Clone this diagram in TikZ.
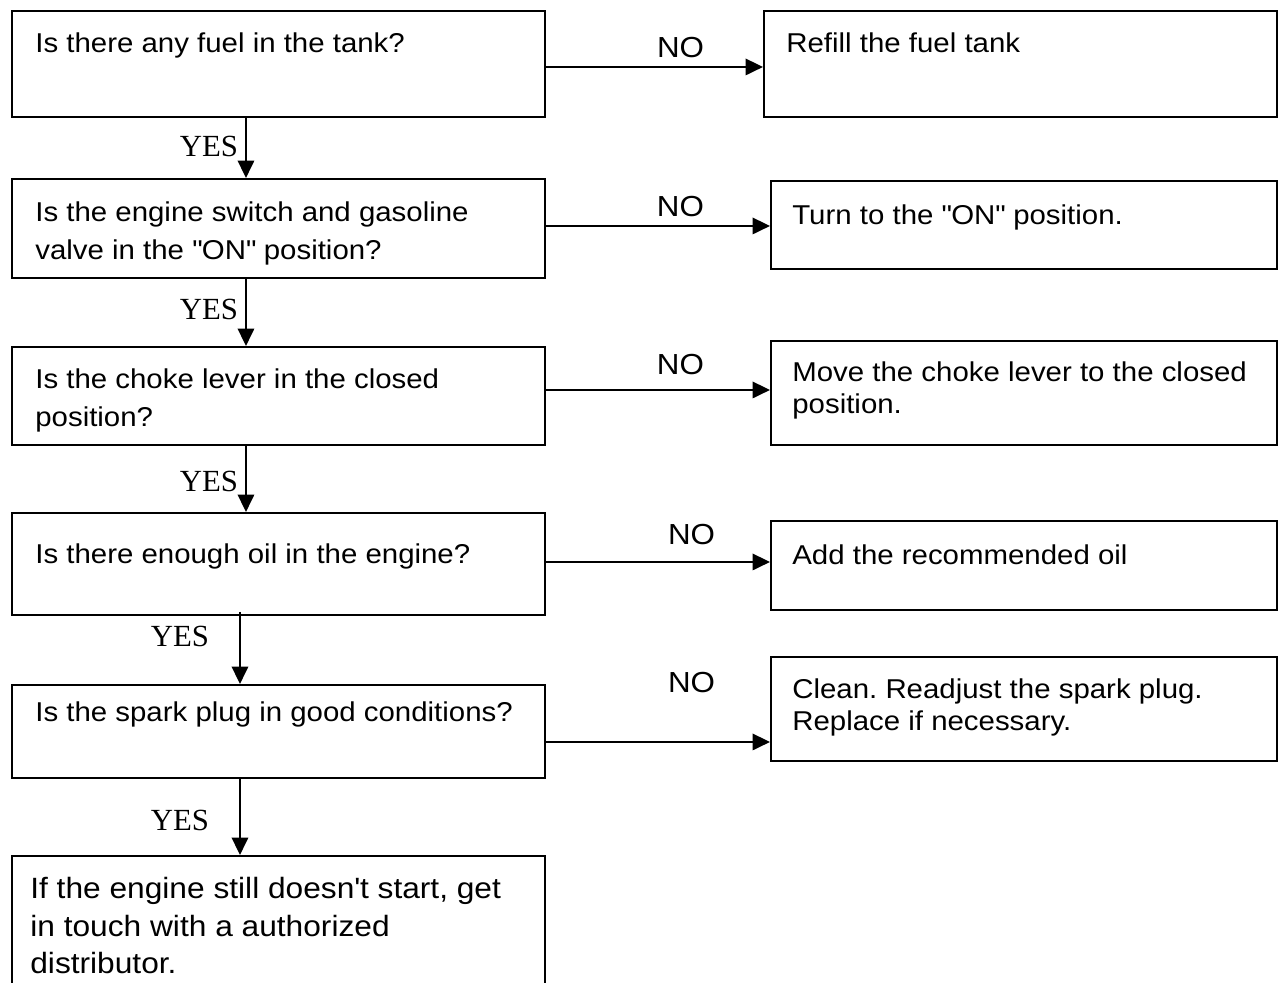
\documentclass[tikz,border=0pt]{standalone}
\usepackage{fontspec}
\setmainfont{Liberation Sans}[FakeStretch=1.08]
\newfontfamily\yesfont{Liberation Serif}
\usetikzlibrary{arrows.meta,positioning,calc}
\frenchspacing

\begin{document}
\begin{tikzpicture}[
  x=0.02cm, y=-0.02cm,
  box/.style 2 args={draw, line width=1.1pt, anchor=north west, inner sep=0pt, minimum width=#1*0.02cm, minimum height=#2*0.02cm},
  qtext/.style={anchor=north west, inner sep=0pt, align=left, font=\fontsize{15.5}{21.6}\selectfont},
  atext/.style={anchor=north west, inner sep=0pt, align=left, font=\fontsize{15.5}{18.2}\selectfont},
  yes/.style={inner sep=0pt, font=\yesfont\fontsize{17.5}{20}\selectfont},
  no/.style={inner sep=0pt, font=\fontsize{16.5}{18}\selectfont},
  arr/.style={-{Triangle[length=0.35cm,width=0.33cm]}, line width=1.1pt},
]
\useasboundingbox (0,0) rectangle (1281,983);

% questions (left column)
\node[box={533}{106}] (q1) at (11,10) {};
\node[box={533}{99}]  (q2) at (11,178) {};
\node[box={533}{98}]  (q3) at (11,346) {};
\node[box={533}{102}] (q4) at (11,512) {};
\node[box={533}{93}]  (q5) at (11,684) {};
\node[box={533}{200}] (q6) at (11,855) {};

% remedies (right column)
\node[box={513}{106}] (a1) at (763,10) {};
\node[box={506}{88}]  (a2) at (770,180) {};
\node[box={506}{104}] (a3) at (770,340) {};
\node[box={506}{89}]  (a4) at (770,520) {};
\node[box={506}{104}] (a5) at (770,656) {};

\node[qtext] (q1t) at ([shift={(24,22)}]q1.north west) {Is there any fuel in the tank?};
\node[qtext] (q2t) at ([shift={(24,23)}]q2.north west) {Is the engine switch and gasoline\\valve in the \textquotedbl ON\textquotedbl\ position?};
\node[qtext] (q3t) at ([shift={(24,22)}]q3.north west) {Is the choke lever in the closed\\position?};
\node[qtext] (q4t) at ([shift={(24,31)}]q4.north west) {Is there enough oil in the engine?};
\node[qtext] (q5t) at ([shift={(24,17)}]q5.north west) {Is the spark plug in good conditions?};
\node[qtext, font=\fontsize{16.7}{21.3}\selectfont] (q6t) at ([shift={(19,22)}]q6.north west) {If the engine still doesn\textquotesingle t start, get\\in touch with a authorized\\distributor.};

\node[atext] (a1t) at ([shift={(23,22)}]a1.north west) {Refill the fuel tank};
\node[atext] (a2t) at ([shift={(22,24)}]a2.north west) {Turn to the \textquotedbl ON\textquotedbl\ position.};
\node[atext] (a3t) at ([shift={(22,21)}]a3.north west) {Move the choke lever to the closed\\position.};
\node[atext] (a4t) at ([shift={(22,24)}]a4.north west) {Add the recommended oil};
\node[atext] (a5t) at ([shift={(22,22)}]a5.north west) {Clean. Readjust the spark plug.\\Replace if necessary.};

% NO branches
\draw[arr] ([yshift=-0.06cm]q1.east) coordinate (n1) -- (n1 -| a1.west) node[no, pos=0.62, above=0.16cm] (no1) {NO};
\draw[arr] ([yshift=0.05cm]q2.east) coordinate (n2) -- (n2 -| a2.west) node[no, pos=0.60, above=0.16cm] (no2) {NO};
\draw[arr] ([yshift=0.12cm]q3.east) coordinate (n3) -- (n3 -| a3.west) node[no, pos=0.60, above=0.28cm] (no3) {NO};
\draw[arr] ([yshift=0.04cm]q4.east) coordinate (n4) -- (n4 -| a4.west) node[no, pos=0.65, above=0.32cm] (no4) {NO};
\draw[arr] ([yshift=-0.21cm]q5.east) coordinate (n5) -- (n5 -| a5.west) node[no, pos=0.65, above=0.96cm] (no5) {NO};

% YES branches
\draw[arr] ([xshift=-0.65cm]q1.south) coordinate (y1) -- (y1 |- q2.north) node[yes, pos=0.48, left=0.14cm] (yes1) {YES};
\draw[arr] ([xshift=-0.65cm]q2.south) coordinate (y2) -- (y2 |- q3.north) node[yes, pos=0.46, left=0.14cm] (yes2) {YES};
\draw[arr] ([xshift=-0.65cm]q3.south) coordinate (y3) -- (y3 |- q4.north) node[yes, pos=0.54, left=0.14cm] (yes3) {YES};
\draw[arr] ([xshift=-0.77cm,yshift=0.08cm]q4.south) coordinate (y4) -- (y4 |- q5.north) node[yes, pos=0.34, left=0.6cm] (yes4) {YES};
\draw[arr] ([xshift=-0.77cm]q5.south) coordinate (y5) -- (y5 |- q6.north) node[yes, pos=0.55, left=0.6cm] (yes5) {YES};

\end{tikzpicture}
\end{document}
